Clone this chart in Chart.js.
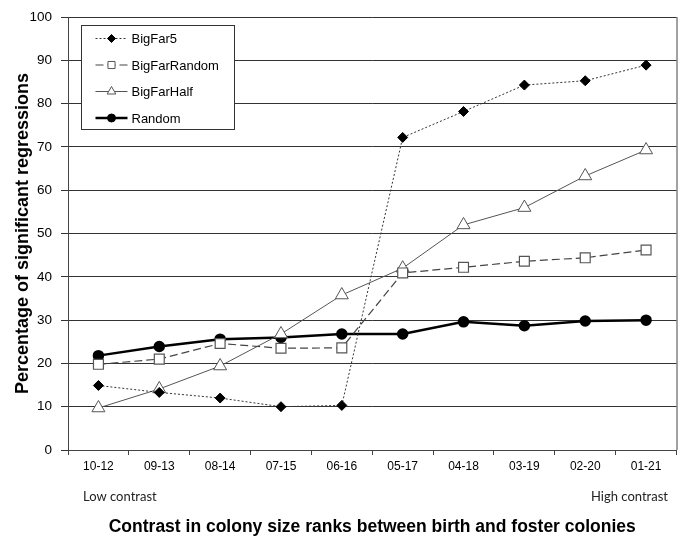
<!DOCTYPE html>
<html>
<head>
<meta charset="utf-8">
<script src="https://cdn.jsdelivr.net/npm/chart.js@4/dist/chart.umd.min.js"></script>
<style>
  html, body { margin: 0; padding: 0; background: #fff; }
  #wrap { width: 685px; height: 538px; }
</style>
</head>
<body>
<div id="wrap"><canvas id="chart" width="685" height="538"></canvas></div>
<script>
/* Data */
var categories = ['10-12', '09-13', '08-14', '07-15', '06-16', '05-17', '04-18', '03-19', '02-20', '01-21'];
var bigFar5 = [14.9, 13.3, 12.0, 10.0, 10.3, 72.2, 78.2, 84.3, 85.3, 88.9];
var bigFarRandom = [19.8, 21.0, 24.6, 23.5, 23.6, 40.9, 42.2, 43.6, 44.4, 46.2];
var bigFarHalf = [9.7, 14.1, 19.4, 26.8, 35.8, 42.0, 52.0, 56.0, 63.3, 69.3];
var random = [21.8, 23.9, 25.6, 26.0, 26.8, 26.8, 29.6, 28.7, 29.8, 30.0];
var yTicks = [0, 10, 20, 30, 40, 50, 60, 70, 80, 90, 100];

var FONT = "'Liberation Sans', Arial, sans-serif";

/* Legend box drawn inside the plot, plus the low/high contrast notes */
var extras = {
  id: 'extras',
  afterDraw: function (chart) {
    var ctx = chart.ctx;
    var area = chart.chartArea;
    ctx.save();

    /* right edge of the plot */
    ctx.strokeStyle = '#444';
    ctx.lineWidth = 1;
    ctx.beginPath();
    ctx.moveTo(area.right + 0.5, area.top);
    ctx.lineTo(area.right + 0.5, area.bottom);
    ctx.stroke();

    /* legend */
    var bx = 81.5, by = 25.5, bw = 153, bh = 104;
    ctx.fillStyle = '#fff';
    ctx.fillRect(bx, by, bw, bh);
    ctx.strokeStyle = '#333';
    ctx.strokeRect(bx, by, bw, bh);
    ctx.font = '13px ' + FONT;
    ctx.textBaseline = 'middle';
    chart.data.datasets.forEach(function (ds, i) {
      var y = by + 13 + i * 26.5;
      ctx.strokeStyle = ds.borderColor;
      ctx.lineWidth = ds.borderWidth;
      ctx.setLineDash(ds.borderDash || []);
      ctx.beginPath();
      ctx.moveTo(bx + 14, y);
      ctx.lineTo(bx + 46, y);
      ctx.stroke();
      ctx.setLineDash([]);
      ctx.fillStyle = ds.pointBackgroundColor;
      ctx.strokeStyle = ds.pointBorderColor;
      ctx.lineWidth = 1;
      Chart.helpers.drawPoint(ctx, {
        pointStyle: ds.pointStyle,
        radius: ds.legendRadius,
        borderWidth: 1
      }, bx + 30, y);
      ctx.fillStyle = '#000';
      ctx.fillText(ds.label, bx + 50, y + 1);
    });

    /* contrast notes under the axis */
    ctx.font = "13px Lato, 'Open Sans', sans-serif";
    ctx.fillStyle = '#222';
    ctx.textAlign = 'left';
    ctx.fillText('Low contrast', 83, 497);
    ctx.textAlign = 'right';
    ctx.fillText('High contrast', 668, 497);
    ctx.restore();
  }
};

new Chart(document.getElementById('chart'), {
  type: 'line',
  data: {
    labels: categories,
    datasets: [
      {
        label: 'BigFar5',
        data: bigFar5,
        borderColor: '#333',
        borderWidth: 1,
        borderDash: [2, 2],
        pointStyle: 'rectRot',
        pointRadius: 5,
        legendRadius: 4,
        pointBackgroundColor: '#000',
        pointBorderColor: '#000'
      },
      {
        label: 'BigFarRandom',
        data: bigFarRandom,
        borderColor: '#444',
        borderWidth: 1.2,
        borderDash: [8, 4],
        pointStyle: 'rect',
        pointRadius: 7,
        legendRadius: 5,
        pointBackgroundColor: '#fff',
        pointBorderColor: '#555'
      },
      {
        label: 'BigFarHalf',
        data: bigFarHalf,
        borderColor: '#555',
        borderWidth: 1,
        pointStyle: 'triangle',
        pointRadius: 7.5,
        legendRadius: 5,
        pointBackgroundColor: '#fff',
        pointBorderColor: '#555'
      },
      {
        label: 'Random',
        data: random,
        borderColor: '#000',
        borderWidth: 2.5,
        pointStyle: 'circle',
        pointRadius: 4.5,
        legendRadius: 4,
        pointBackgroundColor: '#000',
        pointBorderColor: '#000'
      }
    ]
  },
  options: {
    responsive: false,
    animation: false,
    layout: { padding: { top: 13, right: 6, left: 0, bottom: 0 } },
    plugins: {
      legend: { display: false },
      tooltip: { enabled: false }
    },
    elements: {
      line: { tension: 0 },
      point: { borderWidth: 1 }
    },
    scales: {
      x: {
        offset: true,
        afterFit: function (scale) { scale.height = 88; },
        grid: {
          offset: true,
          drawOnChartArea: false,
          drawTicks: true,
          tickLength: 5,
          color: '#444'
        },
        border: { display: true, color: '#444' },
        ticks: {
          color: '#000',
          font: { family: FONT, size: 12 },
          padding: 4,
          maxRotation: 0
        },
        title: {
          display: true,
          text: 'Contrast in colony size ranks between birth and foster colonies',
          color: '#000',
          font: { family: FONT, size: 17.5, weight: 'bold' },
          padding: { top: 32, bottom: 0 }
        }
      },
      y: {
        min: 0,
        max: 100,
        afterFit: function (scale) { scale.width = 68; },
        afterBuildTicks: function (scale) {
          scale.ticks = yTicks.map(function (v) { return { value: v }; });
        },
        grid: {
          color: '#333',
          lineWidth: 1,
          drawTicks: true,
          tickLength: 7
        },
        border: { display: true, color: '#444' },
        ticks: {
          color: '#000',
          font: { family: FONT, size: 13.5 },
          padding: 9
        },
        title: {
          display: true,
          text: 'Percentage of significant regressions',
          color: '#000',
          font: { family: FONT, size: 18, weight: 'bold' },
          padding: { top: 12, bottom: 4 }
        }
      }
    }
  },
  plugins: [extras]
});
</script>
</body>
</html>
